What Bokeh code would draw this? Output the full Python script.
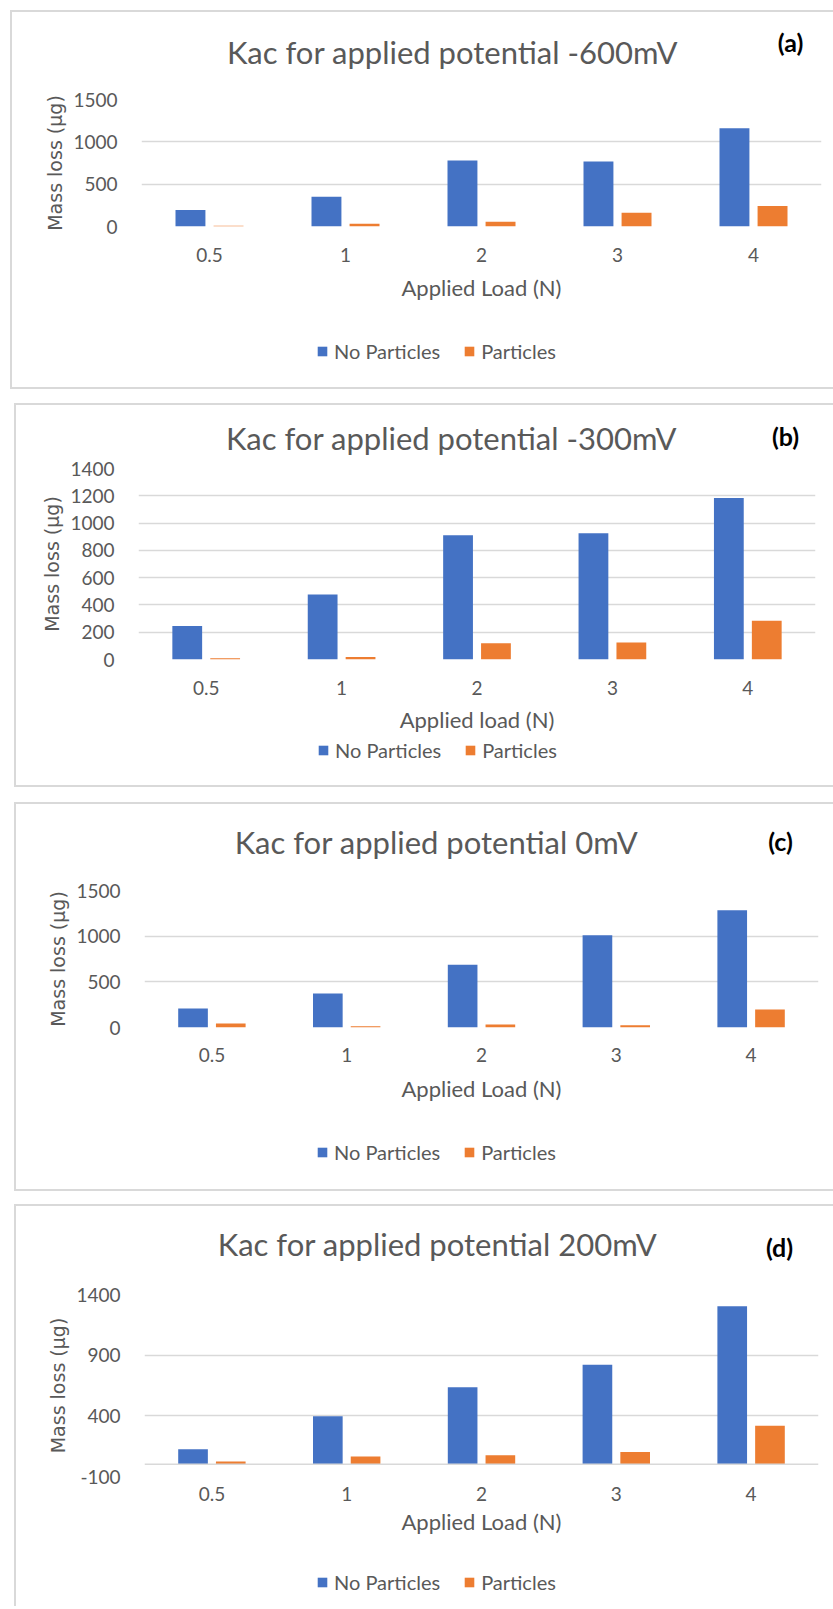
from bokeh.plotting import figure
from bokeh.models import (ColumnDataSource, FactorRange, Range1d, FixedTicker,
                          Legend, LegendItem, Span, Label)
from bokeh.transform import dodge
from bokeh.layouts import column
from bokeh.embed import file_html
from bokeh.resources import INLINE

# ---------------- data ----------------
loads = ["0.5", "1", "2", "3", "4"]

a_no_particles = [194, 352, 780, 768, 1160]
a_particles = [8, 32, 55, 162, 241]

b_no_particles = [245, 476, 911, 926, 1183]
b_particles = [10, 19, 119, 124, 284]

c_no_particles = [208, 373, 688, 1010, 1284]
c_particles = [44, 15, 33, 26, 198]

d_no_particles = [125, 397, 636, 820, 1304]
d_particles = [24, 65, 76, 101, 318]

titles = ["Kac for applied potential -600mV", "Kac for applied potential -300mV",
          "Kac for applied potential 0mV", "Kac for applied potential 200mV"]
tags = ["(a)", "(b)", "(c)", "(d)"]
xlabels = ["Applied Load (N)", "Applied load (N)", "Applied Load (N)", "Applied Load (N)"]
ylabel = "Mass loss (\u00b5g)"
series_names = ["No Particles", "Particles"]

a_ticks = [0, 500, 1000, 1500]
b_ticks = [0, 200, 400, 600, 800, 1000, 1200, 1400]
c_ticks = [0, 500, 1000, 1500]
d_ticks = [-100, 400, 900, 1400]

BLUE = "#4472C4"
ORANGE = "#ED7D31"
GREY = "#595959"
GRID = "#D9D9D9"
FONT = "Lato"
YFONT = "DejaVu Sans"


def bars(p, src, width=0.22):
    r1 = p.vbar(x=dodge("x", -0.14, range=p.x_range), top="no", width=width,
                source=src, fill_color=BLUE, line_color=None)
    r2 = p.vbar(x=dodge("x", 0.14, range=p.x_range), top="pa", width=width,
                source=src, fill_color=ORANGE, line_color=None)
    return r1, r2


def strip_fig(w, h, x_range, y_range):
    f = figure(width=w, height=h, x_range=x_range, y_range=y_range,
               x_axis_type=None, y_axis_type=None, title=None, min_border=0,
               output_backend="svg", toolbar_location=None, frame_align=False)
    f.grid.visible = False
    f.outline_line_color = None
    f.background_fill_color = "white"
    f.border_fill_color = "white"
    return f


def make_header(title, tag, g):
    f = strip_fig(g["W"], g["hd"], Range1d(0, g["W"]), Range1d(g["hd"], 0))
    f.add_layout(Label(x=g["tx"], y=g["ty"], text=title, text_font=FONT,
                       text_font_size="31px", text_color=GREY,
                       text_align="center", text_baseline="middle"))
    f.add_layout(Label(x=g["gx"], y=g["gy"], text=tag, text_font=FONT,
                       text_font_size="25px", text_font_style="bold",
                       text_color="black", text_align="center",
                       text_baseline="middle"))
    return f


def make_legend(src, g):
    # legend strip: zero-width proxies of the same bars, outside the visible range
    f = strip_fig(g["W"], g["hl"], FactorRange(*loads), Range1d(-2, -1))
    r1, r2 = bars(f, src, width=0)
    legend = Legend(items=[LegendItem(label=series_names[0], renderers=[r1]),
                           LegendItem(label=series_names[1], renderers=[r2])],
                    location=(g["lx"], g["ly"]), orientation="horizontal",
                    label_text_font=FONT, label_text_font_size="20px",
                    label_text_color=GREY, border_line_color=None,
                    background_fill_alpha=0, padding=0, margin=0, spacing=23,
                    label_standoff=6, glyph_width=12, glyph_height=12,
                    label_height=20)
    f.add_layout(legend)
    return f


def make_panel(src, ticks, xlabel, g):
    p = figure(x_range=FactorRange(*loads), y_range=Range1d(ticks[0], ticks[-1]),
               width=g["W"], height=g["H"], output_backend="svg", toolbar_location=None,
               title=None, frame_align=False,
               min_border_left=g["mbl"], min_border_right=g["mbr"],
               min_border_top=g["mbt"], min_border_bottom=g["mbb"])
    p.outline_line_color = None
    p.background_fill_color = "white"
    p.border_fill_color = "white"

    bars(p, src)

    if ticks[0] < 0:
        p.add_layout(Span(location=0, dimension="width", line_color=GRID, line_width=1.5))

    # grid
    p.xgrid.visible = False
    p.ygrid.ticker = FixedTicker(ticks=ticks)
    p.ygrid.grid_line_color = GRID
    p.ygrid.grid_line_width = 1.5

    # x axis
    xa = p.xaxis[0]
    xa.axis_line_color = None
    xa.major_tick_line_color = None
    xa.minor_tick_line_color = None
    xa.major_label_text_font = FONT
    xa.major_label_text_font_size = "19px"
    xa.major_label_text_color = GREY
    xa.major_label_standoff = g["xls"]
    xa.axis_label = xlabel
    xa.axis_label_text_font = FONT
    xa.axis_label_text_font_size = "22px"
    xa.axis_label_text_font_style = "normal"
    xa.axis_label_text_color = GREY
    xa.axis_label_standoff = g["xas"]

    # y axis
    ya = p.yaxis[0]
    ya.ticker = FixedTicker(ticks=ticks)
    ya.major_label_overrides = {t: str(t) for t in ticks}
    ya.axis_line_color = None
    ya.major_tick_line_color = None
    ya.minor_tick_line_color = None
    ya.major_label_text_font = FONT
    ya.major_label_text_font_size = "19px"
    ya.major_label_text_color = GREY
    ya.major_label_standoff = 18
    ya.axis_label = ylabel
    ya.axis_label_text_font = YFONT
    ya.axis_label_text_font_size = "19px"
    ya.axis_label_text_font_style = "normal"
    ya.axis_label_text_color = GREY
    ya.axis_label_standoff = 4
    return p


geoms = [
    dict(W=821, hd=70, H=228, hl=77, mbl=129, mbr=12, mbt=17, mbb=84, xls=15, xas=9,
         tx=440, ty=39, gx=778, gy=29, lx=304, ly=24),
    dict(W=817, hd=51, H=281, hl=48, mbl=122, mbr=18, mbt=12, mbb=78, xls=15, xas=8,
         tx=435, ty=32.5, gx=769, gy=30, lx=301, ly=23),
    dict(W=817, hd=70, H=237, hl=78, mbl=128, mbr=15, mbt=16, mbb=84, xls=14, xas=10,
         tx=420, ty=37, gx=764, gy=36, lx=300, ly=25),
    dict(W=817, hd=70, H=262, hl=68, mbl=128, mbr=15, mbt=18, mbb=62, xls=4, xas=4,
         tx=421, ty=37, gx=763, gy=40, lx=300, ly=12),
]

data = [(a_no_particles, a_particles, a_ticks),
        (b_no_particles, b_particles, b_ticks),
        (c_no_particles, c_particles, c_ticks),
        (d_no_particles, d_particles, d_ticks)]

frame_css = [(10, 10, True), (14, 14, True), (15, 14, True), (13, 14, False)]

wrappers = []
for i in range(4):
    no, pa, ticks = data[i]
    g = geoms[i]
    src = ColumnDataSource(dict(x=loads, no=no, pa=pa))
    header = make_header(titles[i], tags[i], g)
    p = make_panel(src, ticks, xlabels[i], g)
    leg = make_legend(src, g)
    mt, ml, bottom = frame_css[i]
    st = {"border-top": "2px solid #D9D9D9", "border-left": "2px solid #D9D9D9",
          "margin-top": f"{mt}px", "margin-left": f"{ml}px"}
    if bottom:
        st["border-bottom"] = "2px solid #D9D9D9"
    wrappers.append(column(header, p, leg, spacing=0, styles=st))

layout = column(*wrappers, spacing=0)

open("out.html", "w").write(file_html(layout, INLINE))
